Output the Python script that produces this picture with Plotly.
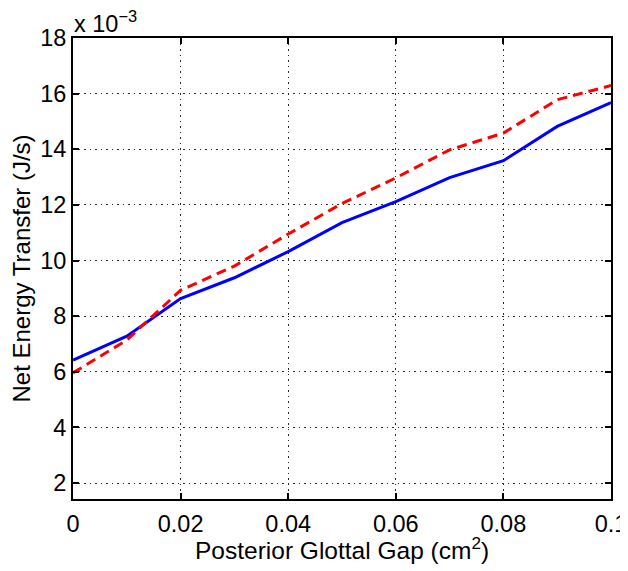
import plotly.graph_objects as go

gap = [0, 0.01, 0.02, 0.03, 0.04, 0.05, 0.06, 0.07, 0.08, 0.09, 0.1]
blue_vals = [6.42, 7.28, 8.63, 9.38, 10.32, 11.36, 12.12, 12.98, 13.59, 14.82, 15.68]
red_vals = [5.96, 7.14, 8.93, 9.80, 10.95, 12.05, 12.97, 13.98, 14.58, 15.78, 16.29]
x_ticks = [0, 0.02, 0.04, 0.06, 0.08, 0.1]
x_labels = ["0", "0.02", "0.04", "0.06", "0.08", "0.1"]
y_ticks = [2, 4, 6, 8, 10, 12, 14, 16, 18]
y_labels = ["2", "4", "6", "8", "10", "12", "14", "16", "18"]

FONT = "Liberation Sans, Arial, Helvetica, sans-serif"

fig = go.Figure()
fig.add_trace(go.Scatter(x=gap, y=blue_vals, mode="lines",
                         line=dict(color="rgb(0,0,255)", width=3), showlegend=False))
fig.add_trace(go.Scatter(x=gap, y=red_vals, mode="lines",
                         line=dict(color="rgb(255,0,0)", width=3, dash="10px,6px"), showlegend=False))

axis_common = dict(showline=True, linecolor="black", linewidth=2, mirror="ticks",
                   ticks="inside", ticklen=6, tickwidth=2, tickcolor="black",
                   showgrid=True, gridcolor="rgb(40,40,40)", gridwidth=1.3, griddash="1.5px,4px",
                   zeroline=False, automargin=False,
                   tickfont=dict(family=FONT, size=23.5, color="black"))

fig.update_xaxes(range=[0, 0.1], tickvals=x_ticks, ticktext=x_labels,
                 ticklabelstandoff=3, **axis_common)
fig.update_yaxes(range=[1.425, 18], tickvals=y_ticks, ticktext=y_labels,
                 **axis_common)

fig.add_annotation(text="x 10<sup>\u22123</sup>", xref="paper", yref="paper",
                   x=0, y=1, xanchor="left", yanchor="bottom", showarrow=False,
                   font=dict(family=FONT, size=23.5, color="black"), yshift=0,
                   borderpad=0)
fig.add_annotation(text="Posterior Glottal Gap (cm<sup>2</sup>)", xref="paper", yref="paper",
                   x=0.5, y=0, xanchor="center", yanchor="top", showarrow=False,
                   font=dict(family=FONT, size=24.5, color="black"), yshift=-33,
                   borderpad=0)
fig.add_annotation(text="Net Energy Transfer (J/s)", xref="paper", yref="paper",
                   x=0, y=0.5, xanchor="center", yanchor="middle", textangle=-90,
                   showarrow=False, font=dict(family=FONT, size=24, color="black"),
                   xshift=-52, borderpad=0)

# page body adds an 8px offset, so the figure is sized to the remaining window
fig.update_layout(width=620, height=563, margin=dict(l=65, r=17, t=30, b=72),
                  plot_bgcolor="white", paper_bgcolor="white",
                  font=dict(family=FONT, color="black"))

fig.write_html("out.html")
